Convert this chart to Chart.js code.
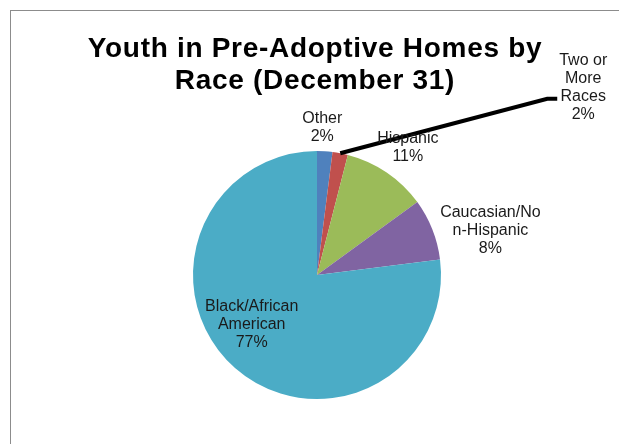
<!DOCTYPE html>
<html>
<head>
<meta charset="utf-8">
<script src="https://cdn.jsdelivr.net/npm/chart.js@4/dist/chart.umd.min.js"></script>
<style>
  html, body { margin: 0; padding: 0; background: #ffffff; }
  #wrap { width: 619px; height: 444px; position: relative; }
</style>
</head>
<body>
<div id="wrap"><canvas id="c" width="619" height="444"></canvas></div>
<script>
// ---- Data ----
const titleLines = ["Youth in Pre-Adoptive Homes by", "Race (December 31)"];
const categories = ["Other", "Two or More Races", "Hispanic", "Caucasian/Non-Hispanic", "Black/African American"];
const labelLines = [["Other"], ["Two or", "More", "Races"], ["Hispanic"], ["Caucasian/No", "n-Hispanic"], ["Black/African", "American"]];
const percentValues = [2, 2, 11, 8, 77];
const sliceColors = ["#4F81BD", "#C0504D", "#9BBB59", "#8064A2", "#4BACC6"];

// label placement relative to each arc: radius factor along mid-angle, plus nudge
const labelPlacement = [
  { f: 1.19, dx: -4, dy: 0 },
  { f: 1.0, dx: 243, dy: -66, leader: true },
  { f: 1.26, dx: 3, dy: 2 },
  { f: 1.4, dx: 12, dy: 20 },
  { f: 0.65, dx: -12, dy: -11 }
];

const frameAndTitle = {
  id: 'frameAndTitle',
  beforeDraw(chart) {
    const ctx = chart.ctx;
    ctx.save();
    ctx.fillStyle = '#ffffff';
    ctx.fillRect(0, 0, chart.width, chart.height);
    ctx.strokeStyle = '#8c8c8c';
    ctx.lineWidth = 1;
    ctx.strokeRect(10.5, 10.5, 800, 800);
    ctx.restore();
  },
  afterDraw(chart) {
    const ctx = chart.ctx;
    ctx.save();
    ctx.fillStyle = '#000000';
    ctx.font = 'bold 28px "Liberation Sans", Arial, sans-serif';
    ctx.textAlign = 'center';
    ctx.textBaseline = 'alphabetic';
    try { ctx.letterSpacing = '0.7px'; } catch (e) {}
    ctx.fillText(titleLines[0], 315, 57);
    ctx.fillText(titleLines[1], 315, 89);
    ctx.restore();

    // slice labels
    const meta = chart.getDatasetMeta(0);
    ctx.save();
    ctx.font = '16px "Liberation Sans", Arial, sans-serif';
    ctx.fillStyle = '#1a1a1a';
    ctx.textAlign = 'center';
    ctx.textBaseline = 'middle';
    const lh = 18;
    meta.data.forEach((arc, i) => {
      const p = labelPlacement[i];
      const mid = (arc.startAngle + arc.endAngle) / 2;
      const ax = arc.x + Math.cos(mid) * arc.outerRadius * p.f;
      const ay = arc.y + Math.sin(mid) * arc.outerRadius * p.f;
      const cx = ax + p.dx;
      const cy = ay + p.dy;
      const lines = labelLines[i].concat([percentValues[i] + '%']);
      const top = cy - (lines.length - 1) * lh / 2;
      if (p.leader) {
        ctx.save();
        ctx.strokeStyle = '#000000';
        ctx.lineWidth = 4;
        ctx.beginPath();
        ctx.moveTo(ax, ay);
        ctx.lineTo(cx - 36, cy + 11.5);
        ctx.lineTo(cx - 26, cy + 11.5);
        ctx.stroke();
        ctx.restore();
      }
      lines.forEach((t, k) => ctx.fillText(t, cx, top + k * lh));
    });
    ctx.restore();
  }
};

new Chart(document.getElementById('c'), {
  type: 'pie',
  data: {
    labels: categories,
    datasets: [{
      data: percentValues,
      backgroundColor: sliceColors,
      borderWidth: 0
    }]
  },
  options: {
    responsive: false,
    animation: false,
    layout: { padding: { left: 193, right: 178, top: 151, bottom: 45 } },
    plugins: {
      legend: { display: false },
      tooltip: { enabled: false },
      title: { display: false }
    }
  },
  plugins: [frameAndTitle]
});
</script>
</body>
</html>
